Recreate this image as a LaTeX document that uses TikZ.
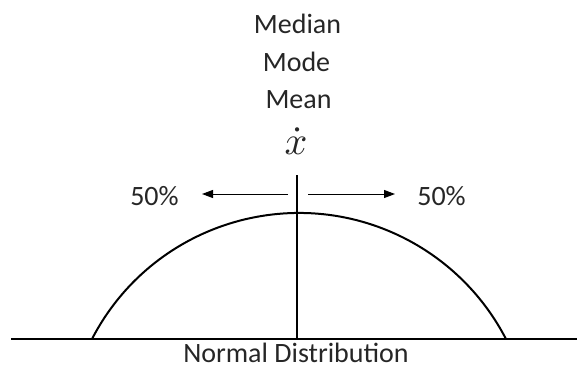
\documentclass[tikz,border=0pt]{standalone}
\usepackage{fontspec}
\setmainfont{Carlito}
\usetikzlibrary{arrows.meta}
\begin{document}
\begin{tikzpicture}[x=1pt,y=-1pt,
  lbl/.style={inner sep=0pt,anchor=base,text depth=0pt,font=\fontsize{28}{32}\selectfont,text=black!85},
  thick line/.style={line width=2pt},
  arr/.style={line width=1pt,-{Triangle[length=11pt,width=8pt]}}]
\useasboundingbox (0,0) rectangle (577,365);
% text labels
\node[lbl] (median) at (297.5,33) {Median};
\node[lbl] (mode) at (296.5,71) {Mode};
\node[lbl] (mean) at (298.5,108) {Mean};
\node[inner sep=0pt,scale=4,text=black!85] (xbar) at (296,141) {$\dot{x}$};
\node[lbl] (pl) at (154.5,205) {50\%};
\node[lbl] (pr) at (441.5,205) {50\%};
\node[lbl] (nd) at (296,362) {Normal Distribution};
% axis
\coordinate (axL) at (11,339);
\coordinate (axR) at (577,339);
\draw[line width=2.6pt] (axL) -- (axR);
% vertical line
\coordinate (vtop) at (297,175);
\coordinate (vbot) at (297,339);
\draw[thick line] (vtop) -- (vbot);
% curve
\coordinate (footL) at (92,339);
\draw[thick line] (footL) arc[start angle=-152.67,end angle=-27.33,radius=233];
% arrows
\coordinate (al0) at (288,194);
\coordinate (al1) at (202,194);
\coordinate (ar0) at (308,194);
\coordinate (ar1) at (395,194);
\draw[arr] (al0) -- (al1);
\draw[arr] (ar0) -- (ar1);
\end{tikzpicture}
\end{document}
